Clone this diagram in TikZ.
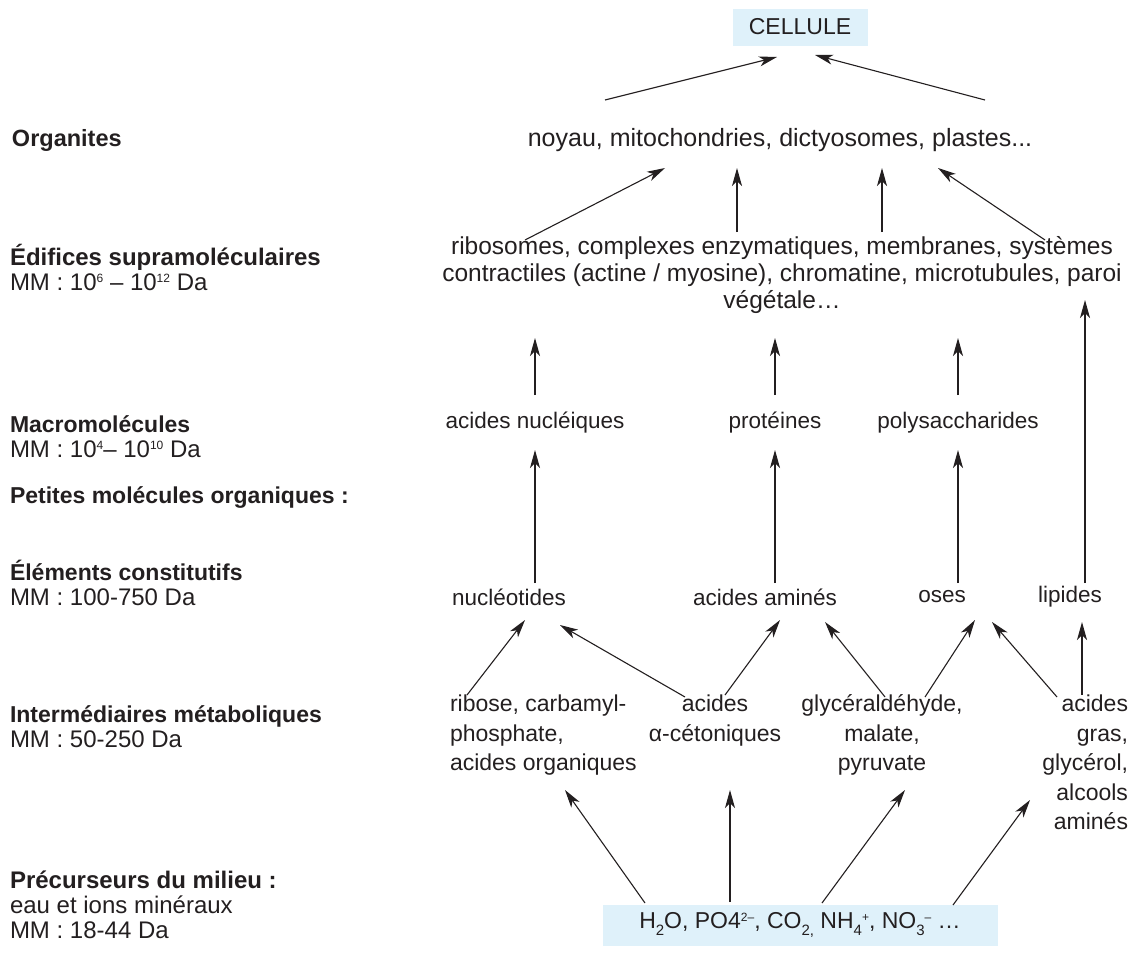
\documentclass[tikz,border=0pt]{standalone}
\usepackage{fontspec}
\setmainfont{Liberation Sans}
\usetikzlibrary{arrows.meta,calc}
\definecolor{ink}{HTML}{231F20}
\definecolor{boxblue}{HTML}{DFF1FA}
\newcommand\mysup[1]{\raisebox{0.33em}{\fontsize{12}{12}\selectfont #1}}
\newcommand\mysub[1]{\raisebox{-0.3em}{\fontsize{15}{15}\selectfont #1}}
\newcommand\blab{\fontsize{23}{25}\selectfont\bfseries}
\begin{document}
\begin{tikzpicture}[x=1pt,y=-1pt,
  every node/.style={text=ink,inner sep=0pt,outer sep=0pt},
  lab/.style={anchor=west,align=left,font=\fontsize{24}{25}\selectfont},
  txt/.style={font=\fontsize{23}{29.5}\selectfont},
  mid/.style={font=\fontsize{22.5}{29.5}\selectfont},
  bluebox/.style={fill=boxblue,txt},
  arr/.style={draw=ink,line width=1.1pt,-{Stealth[length=18pt,width=10pt,inset=5pt]}}]
\useasboundingbox (0,0) rectangle (1137,953);
% left labels
\node[lab] (l1) at (12,140) {\fontsize{23.5}{25}\selectfont\bfseries Organites};
\node[lab] (l2) at (10,267) {\textbf{Édifices supramoléculaires}\\MM : 10\mysup{6} – 10\mysup{12} Da};
\node[lab] (l3) at (10,437) {{\blab Macromolécules}\\MM : 10\mysup{4}– 10\mysup{10} Da};
\node[lab] (l4) at (10,497) {\blab Petites molécules organiques :};
\node[lab] (l5) at (10,583) {{\blab Éléments constitutifs}\\MM : 100-750 Da};
\node[lab] (l6) at (10,727) {{\blab Intermédiaires métaboliques}\\MM : 50-250 Da};
\node[lab] (l7) at (10,905) {\textbf{Précurseurs du milieu :}\\eau et ions minéraux\\MM : 18-44 Da};
% main column
\node[bluebox,minimum width=135,minimum height=37] (cell) at (800,27) {CELLULE};
\node[txt,font=\fontsize{25}{29}\selectfont] (org) at (780,140) {noyau, mitochondries, dictyosomes, plastes...};
\node[txt,align=center,font=\fontsize{24.5}{27}\selectfont] (sup) at (782,275) {ribosomes, complexes enzymatiques, membranes, systèmes\\contractiles (actine / myosine), chromatine, microtubules, paroi\\végétale…};
\node[mid] (acn) at (535,423) {acides nucléiques};
\node[mid] (prot) at (775,423) {protéines};
\node[mid] (poly) at (958,423) {polysaccharides};
\node[mid] (nucl) at (509,597) {nucléotides};
\node[mid] (aa) at (765,597) {acides aminés};
\node[mid] (oses) at (942,597) {oses};
\node[mid] (lip) at (1070,597) {lipides};
\node[txt,align=left,anchor=north west] (rib) at (450,695) {ribose, carbamyl-\\phosphate,\\acides organiques};
\node[txt,align=center,anchor=north] (ac) at (715,695) {acides\\α-cétoniques};
\node[txt,align=center,anchor=north] (gly) at (882,695) {glycéraldéhyde,\\malate,\\pyruvate};
\node[txt,align=right,anchor=north east] (ag) at (1128,695) {acides\\gras,\\glycérol,\\alcools\\aminés};
\node[bluebox,minimum width=395,minimum height=41] (pre) at (800,925) {H\mysub{2}O, PO4\mysup{2–}, CO\mysub{2,} NH\mysub{4}\mysup{+}, NO\mysub{3}\mysup{–} …};
% arrows to cell
\draw[arr] ($(org)+(-175,-40)$) -- ($(cell)+(-23,30)$);
\draw[arr] ($(org)+(205,-40)$) -- ($(cell)+(15,28)$);
% arrows to organites
\draw[arr] ($(sup)+(-257,-35)$) -- ($(org)+(-115,28)$);
\draw[arr] ($(sup)+(-45,-43)$) -- ($(org)+(-43,28)$);
\draw[arr] ($(sup)+(100,-43)$) -- ($(org)+(102,28)$);
\draw[arr] ($(sup)+(263,-35)$) -- ($(org)+(158,28)$);
% macromolecules to supra
\draw[arr] ($(acn)+(0,-28)$) -- ($(sup)+(-247,63)$);
\draw[arr] ($(prot)+(0,-28)$) -- ($(sup)+(-7,63)$);
\draw[arr] ($(poly)+(0,-28)$) -- ($(sup)+(176,63)$);
% constituents to macromolecules
\draw[arr] ($(nucl)+(26,-14)$) -- ($(acn)+(0,27)$);
\draw[arr] ($(aa)+(10,-14)$) -- ($(prot)+(0,27)$);
\draw[arr] ($(oses)+(16,-14)$) -- ($(poly)+(0,27)$);
\draw[arr] ($(lip)+(15,-14)$) -- ($(sup)+(303,25)$);
% intermediates to constituents
\draw[arr] ($(rib.north west)+(17,0)$) -- ($(nucl)+(16,23)$);
\draw[arr] ($(ac.north)+(-30,2)$) -- ($(nucl)+(51,28)$);
\draw[arr] ($(ac.north)+(10,0)$) -- ($(aa)+(15,23)$);
\draw[arr] ($(gly.north)+(3,2)$) -- ($(aa)+(60,25)$);
\draw[arr] ($(gly.north)+(43,2)$) -- ($(oses)+(33,23)$);
\draw[arr] ($(ag.north east)+(-71,2)$) -- ($(oses)+(50,25)$);
\draw[arr] ($(ag.north east)+(-46,0)$) -- ($(lip)+(12,25)$);
% precursors to intermediates
\draw[arr] ($(pre)+(-155,-22)$) -- ($(rib.north west)+(115,95)$);
\draw[arr] ($(pre)+(-70,-23)$) -- ($(ac.north)+(15,95)$);
\draw[arr] ($(pre)+(22,-22)$) -- ($(gly.north)+(23,95)$);
\draw[arr] ($(pre)+(153,-20)$) -- ($(ag.north east)+(-98,105)$);
\end{tikzpicture}
\end{document}
